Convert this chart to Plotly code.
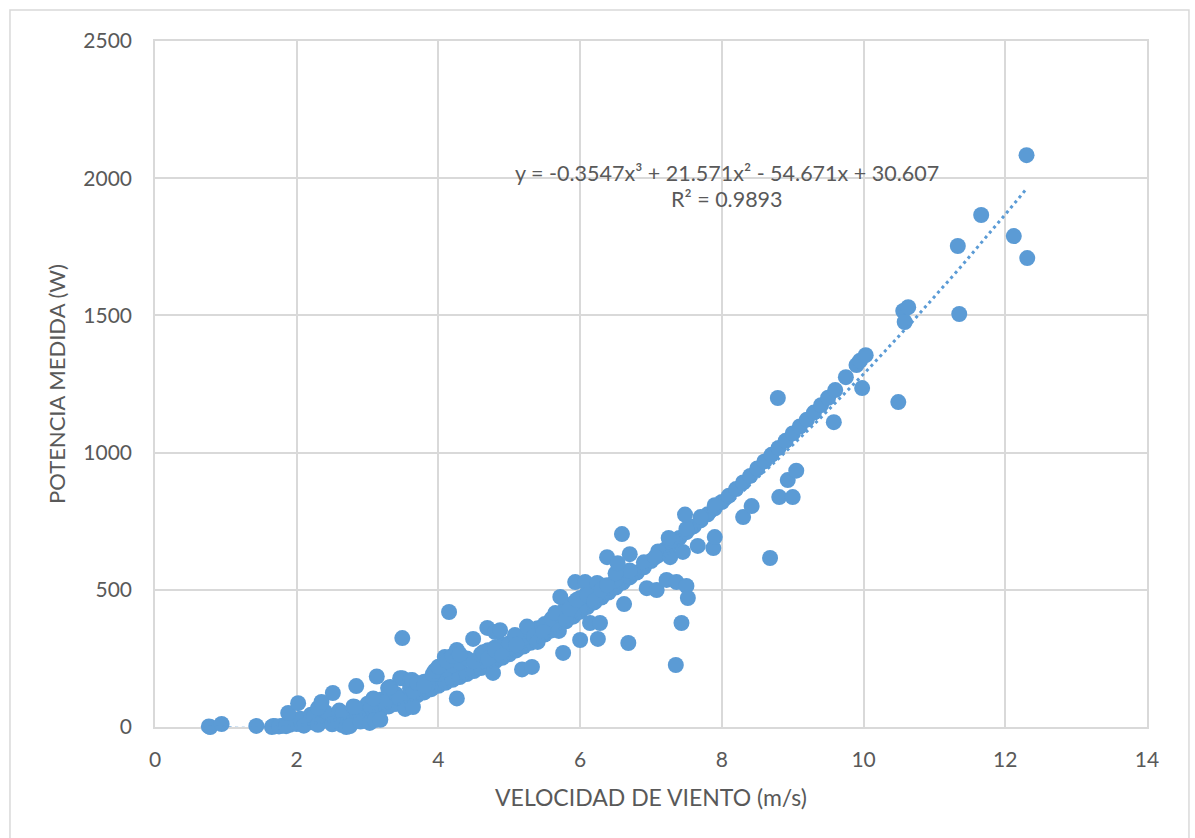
import numpy as np
import plotly.graph_objects as go

# Dense band of readings along the power curve (wind speed m/s, power W)
v_core = [1.70, 1.80, 1.90, 2.00, 2.10, 2.20, 2.30, 2.40, 2.50, 2.60, 2.70, 2.80, 2.90,
          3.00, 3.10, 3.20, 3.30, 3.40, 3.50, 3.60, 3.70, 3.80, 3.90, 4.00, 4.10, 4.20,
          4.30, 4.40, 4.50, 4.60, 4.70, 4.80, 4.90, 5.00, 5.10, 5.20, 5.30, 5.40, 5.50,
          5.60, 5.70, 5.80, 5.90, 6.00, 6.10, 6.20, 6.30, 6.40, 6.50, 6.60, 6.70, 6.80,
          6.90, 7.00, 7.10, 7.20, 7.30, 7.40, 7.50, 7.60, 7.70, 7.80, 7.90, 8.00, 8.10,
          8.20, 8.30, 8.40, 8.50, 8.60, 8.70, 8.80, 8.90, 9.00, 9.10, 9.20, 9.30, 9.40,
          9.50, 9.60, 9.75, 9.90, 9.95, 10.03]
p_core = [3, 5, 8, 11, 14, 17, 20, 24, 28, 33, 38, 43, 48,
          53, 60, 67, 75, 84, 94, 104, 115, 126, 138, 150, 161, 172,
          182, 193, 204, 215, 227, 239, 252, 265, 279, 293, 307, 322, 337,
          352, 368, 385, 402, 420, 437, 454, 472, 490, 508, 526, 545, 563,
          582, 605, 626, 647, 668, 689, 710, 731, 753, 775, 797, 820, 843,
          867, 891, 915, 942, 968, 992, 1017, 1043, 1070, 1095, 1120, 1146, 1173,
          1200, 1228, 1275, 1319, 1335, 1355]

# Readings sitting just above the main band
v_upper = [2.05, 2.2, 2.25, 2.4, 2.45, 2.6, 2.65, 2.8, 2.85, 3.0, 3.05, 3.2, 3.25,
           3.4, 3.45, 3.6, 3.65, 3.8, 3.85, 4.0, 4.1, 4.2, 4.3, 4.4, 4.5, 4.6, 4.7,
           4.8, 4.9, 5.0, 5.1, 5.2, 5.3, 5.4, 5.5, 5.6, 5.7, 5.8, 5.9, 6.0, 6.1,
           6.2, 6.3, 6.5, 6.7, 6.9, 7.1, 7.3, 7.5, 7.7, 7.9]
p_upper = [30, 45, 40, 55, 35, 60, 50, 75, 55, 85, 70, 100, 90,
           120, 105, 140, 130, 165, 155, 195, 210, 225, 235, 250, 240, 265, 280,
           290, 300, 305, 320, 325, 345, 360, 375, 395, 410, 440, 450, 470, 490,
           500, 515, 535, 570, 600, 640, 680, 722, 765, 808]

# Low-wind readings close to zero output
v_low = [0.78, 0.76, 0.94, 1.43, 1.65, 1.67, 1.75, 1.85, 2.10, 2.30, 2.50, 2.64, 2.70,
         2.75, 2.90, 3.03, 3.10, 3.18]
p_low = [0, 2, 11, 4, 0, 4, 2, 3, 5, 8, 10, 7, 0,
         3, 20, 15, 25, 26]

# Scattered readings away from the band
v_spread = [1.88, 2.02, 2.30, 2.35, 2.51, 2.82, 2.84, 3.08, 3.13, 3.29, 3.32, 3.46,
            3.49, 3.49, 3.53, 3.60, 3.63, 3.64, 3.70, 3.80, 3.92, 3.95, 4.00, 4.09,
            4.12, 4.15, 4.20, 4.26, 4.26, 4.30, 4.49, 4.63, 4.69, 4.70, 4.77, 4.80,
            4.80, 4.87, 4.90, 5.08, 5.10, 5.18, 5.25, 5.32, 5.35, 5.40, 5.48, 5.65,
            5.70, 5.72, 5.76, 5.80, 5.85, 5.93, 5.95, 6.00, 6.07, 6.10, 6.14, 6.20,
            6.24, 6.25, 6.28, 6.30, 6.38, 6.38, 6.50, 6.53, 6.59, 6.62, 6.68, 6.70,
            6.94, 7.06, 7.08, 7.22, 7.25, 7.27, 7.35, 7.36, 7.43, 7.45, 7.48, 7.50,
            7.52, 7.66, 7.88, 7.90, 8.30, 8.42, 8.68, 8.79, 8.81, 8.93, 9.00, 9.05,
            9.58, 9.98]
p_spread = [51, 87, 69, 91, 124, 73, 149, 104, 184, 142, 146, 178,
            324, 178, 66, 170, 171, 73, 160, 150, 193, 205, 220, 255,
            240, 419, 260, 281, 104, 265, 321, 272, 361, 250, 197, 346,
            281, 353, 260, 335, 300, 210, 366, 219, 330, 310, 346, 415,
            350, 474, 270, 390, 430, 528, 463, 317, 528, 480, 379, 460,
            525, 321, 379, 500, 517, 619, 560, 597, 703, 448, 306, 630,
            506, 619, 499, 536, 689, 619, 226, 528, 379, 638, 774, 514,
            470, 660, 652, 692, 765, 805, 616, 1199, 838, 900, 838, 934,
            1111, 1235]

# High-wind readings
v_high = [10.49, 10.56, 10.58, 10.63, 11.33, 11.35, 11.66, 12.12, 12.30, 12.31]
p_high = [1184, 1516, 1476, 1530, 1753, 1505, 1866, 1789, 2084, 1709]

# Cubic trendline coefficients (highest power first) and fit quality
trend_coef = [-0.3547, 21.571, -54.671, 30.607]
r_squared = 0.9893

wind = np.array(v_core + v_upper + v_low + v_spread + v_high)
power = np.array(p_core + p_upper + p_low + p_spread + p_high)

blue = "#5B9BD5"
grid = "#D9D9D9"
text_col = "#595959"
font_family = "Lato, Carlito, Calibri, sans-serif"

fig = go.Figure()

fig.add_trace(go.Scatter(
    x=wind, y=power, mode="markers",
    marker=dict(size=16, color=blue, line=dict(width=0)),
    cliponaxis=False, showlegend=False,
))

v_fit = np.linspace(wind.min(), wind.max(), 300)
p_fit = np.polyval(trend_coef, v_fit)
fig.add_trace(go.Scatter(
    x=v_fit, y=p_fit, mode="lines",
    line=dict(color=blue, width=3, dash="3px,3.6px"),
    cliponaxis=False, showlegend=False, hoverinfo="skip",
))

eq_text = "y = {:.4f}x³ + {:.3f}x² - {:.3f}x + {:.3f}".format(
    trend_coef[0], trend_coef[1], -trend_coef[2], trend_coef[3])
fig.add_annotation(x=8.07, y=2019, xref="x", yref="y", text=eq_text,
                   showarrow=False, font=dict(family=font_family, size=21.5, color=text_col))
fig.add_annotation(x=8.07, y=1924, xref="x", yref="y",
                   text="R² = {:.4f}".format(r_squared),
                   showarrow=False, font=dict(family=font_family, size=21.5, color=text_col))

# Outer chart frame
fig.add_shape(type="rect", xref="paper", yref="paper",
              x0=-0.1462, x1=1.0423, y0=-0.194, y1=1.0452,
              line=dict(color=grid, width=1.5), fillcolor="rgba(0,0,0,0)", layer="below")

axis_common = dict(
    showgrid=True, gridcolor=grid, gridwidth=1.5,
    showline=True, linecolor=grid, linewidth=1.5, mirror=True,
    zeroline=False, ticks="", layer="below traces",
    tickfont=dict(family=font_family, size=21, color=text_col),
)

fig.update_xaxes(
    range=[0, 14], dtick=2, tick0=0,
    title=dict(text="VELOCIDAD DE VIENTO (m/s)", standoff=20,
               font=dict(family=font_family, size=23, color=text_col)),
    ticklabelstandoff=13,
    **axis_common,
)
fig.update_yaxes(
    range=[0, 2500], dtick=500, tick0=0,
    title=dict(text="POTENCIA MEDIDA (W)", standoff=12,
               font=dict(family=font_family, size=22, color=text_col)),
    ticklabelstandoff=17,
    **axis_common,
)

fig.update_layout(
    width=1195, height=838,
    margin=dict(l=155, r=48, t=41, b=111, autoexpand=False),
    paper_bgcolor="white", plot_bgcolor="white",
    showlegend=False,
)

fig.write_html("out.html")
